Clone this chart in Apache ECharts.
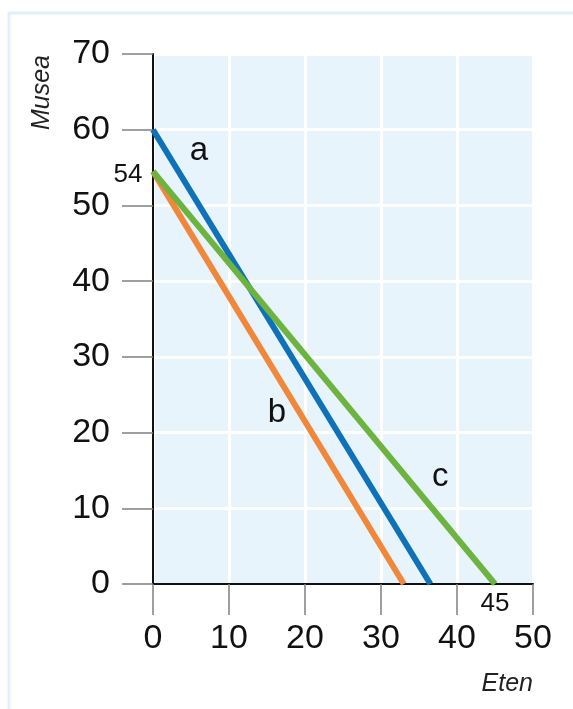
<!DOCTYPE html>
<html>
<head>
<meta charset="utf-8">
<script src="https://cdn.jsdelivr.net/npm/echarts@6/dist/echarts.min.js"></script>
<style>
html,body{margin:0;padding:0;background:#fff;}
#c{width:573px;height:709px;}
</style>
</head>
<body>
<div id="c"></div>
<script>
// Data
var xTicks = [0, 10, 20, 30, 40, 50];
var yTicks = [0, 10, 20, 30, 40, 50, 60, 70];
var lineA = [[0, 60], [36.5, 0]];
var lineB = [[0, 54.5], [33, 0]];
var lineC = [[0, 54.5], [45, 0]];
var seriesNames = ['a', 'b', 'c'];
var labelA = [6.05, 57.2];
var labelB = [16.3, 22.6];
var labelC = [37.8, 14.1];
var startLabel = {text: '54', coord: [0, 54]};
var endLabel = {text: '45', coord: [45, 0]};
var xName = 'Eten';
var yName = 'Musea';

var FONT = 'Liberation Sans, Arial, sans-serif';
var chart = echarts.init(document.getElementById('c'));

function textPoint(coord, text, size, pos, extra) {
  var lbl = {show: true, formatter: text, color: '#111', fontSize: size, fontFamily: FONT, position: pos};
  if (extra) for (var k in extra) lbl[k] = extra[k];
  return {coord: coord, symbol: 'circle', symbolSize: 1, itemStyle: {color: 'rgba(0,0,0,0)'}, label: lbl};
}

function lineSeries(name, data, color, points) {
  return {
    name: name, type: 'line', data: data, symbol: 'none', silent: true,
    lineStyle: {color: color, width: 6, cap: 'butt'},
    markPoint: {silent: true, animation: false, data: points}
  };
}

chart.setOption({
  animation: false,
  backgroundColor: '#fff',
  grid: {left: 153, right: 40, top: 54, bottom: 125, show: true, backgroundColor: '#e8f4fc', borderWidth: 0},
  xAxis: {
    type: 'value', min: xTicks[0], max: xTicks[xTicks.length - 1], interval: 10,
    axisLine: {show: true, onZero: false, lineStyle: {color: '#111', width: 2}},
    axisTick: {show: true, length: 31, lineStyle: {color: '#808080', width: 1.5}},
    axisLabel: {margin: 38, fontSize: 34, color: '#111', fontFamily: FONT},
    splitLine: {show: true, lineStyle: {color: '#ffffff', width: 3}}
  },
  yAxis: {
    type: 'value', min: yTicks[0], max: yTicks[yTicks.length - 1], interval: 10,
    axisLine: {show: true, onZero: false, lineStyle: {color: '#111', width: 2}},
    axisTick: {show: true, length: 31, lineStyle: {color: '#808080', width: 1.5}},
    axisLabel: {margin: 43, fontSize: 34, color: '#111', fontFamily: FONT},
    splitLine: {show: true, lineStyle: {color: '#ffffff', width: 3}}
  },
  graphic: [
    {type: 'rect', shape: {x: 9, y: 13, width: 700, height: 800}, style: {fill: 'none', stroke: '#e3f0fa', lineWidth: 3}, silent: true, z: -10},
    {type: 'text', x: 42, y: 55, rotation: Math.PI / 2, style: {text: yName, fontSize: 25, fontStyle: 'italic', fontFamily: FONT, fill: '#222', align: 'right', verticalAlign: 'middle'}},
    {type: 'text', x: 533, y: 684, style: {text: xName, fontSize: 25, fontStyle: 'italic', fontFamily: FONT, fill: '#222', align: 'right', verticalAlign: 'middle'}}
  ],
  series: [
    lineSeries(seriesNames[0], lineA, '#0f72b8', [textPoint(labelA, seriesNames[0], 33, 'inside')]),
    lineSeries(seriesNames[1], lineB, '#f0873a', [
      textPoint(labelB, seriesNames[1], 33, 'inside'),
      textPoint(startLabel.coord, startLabel.text, 26, 'left', {distance: 10})
    ]),
    lineSeries(seriesNames[2], lineC, '#6cb33f', [
      textPoint(labelC, seriesNames[2], 33, 'inside'),
      textPoint(endLabel.coord, endLabel.text, 26, 'inside', {offset: [0, 20]})
    ])
  ]
});
</script>
</body>
</html>
